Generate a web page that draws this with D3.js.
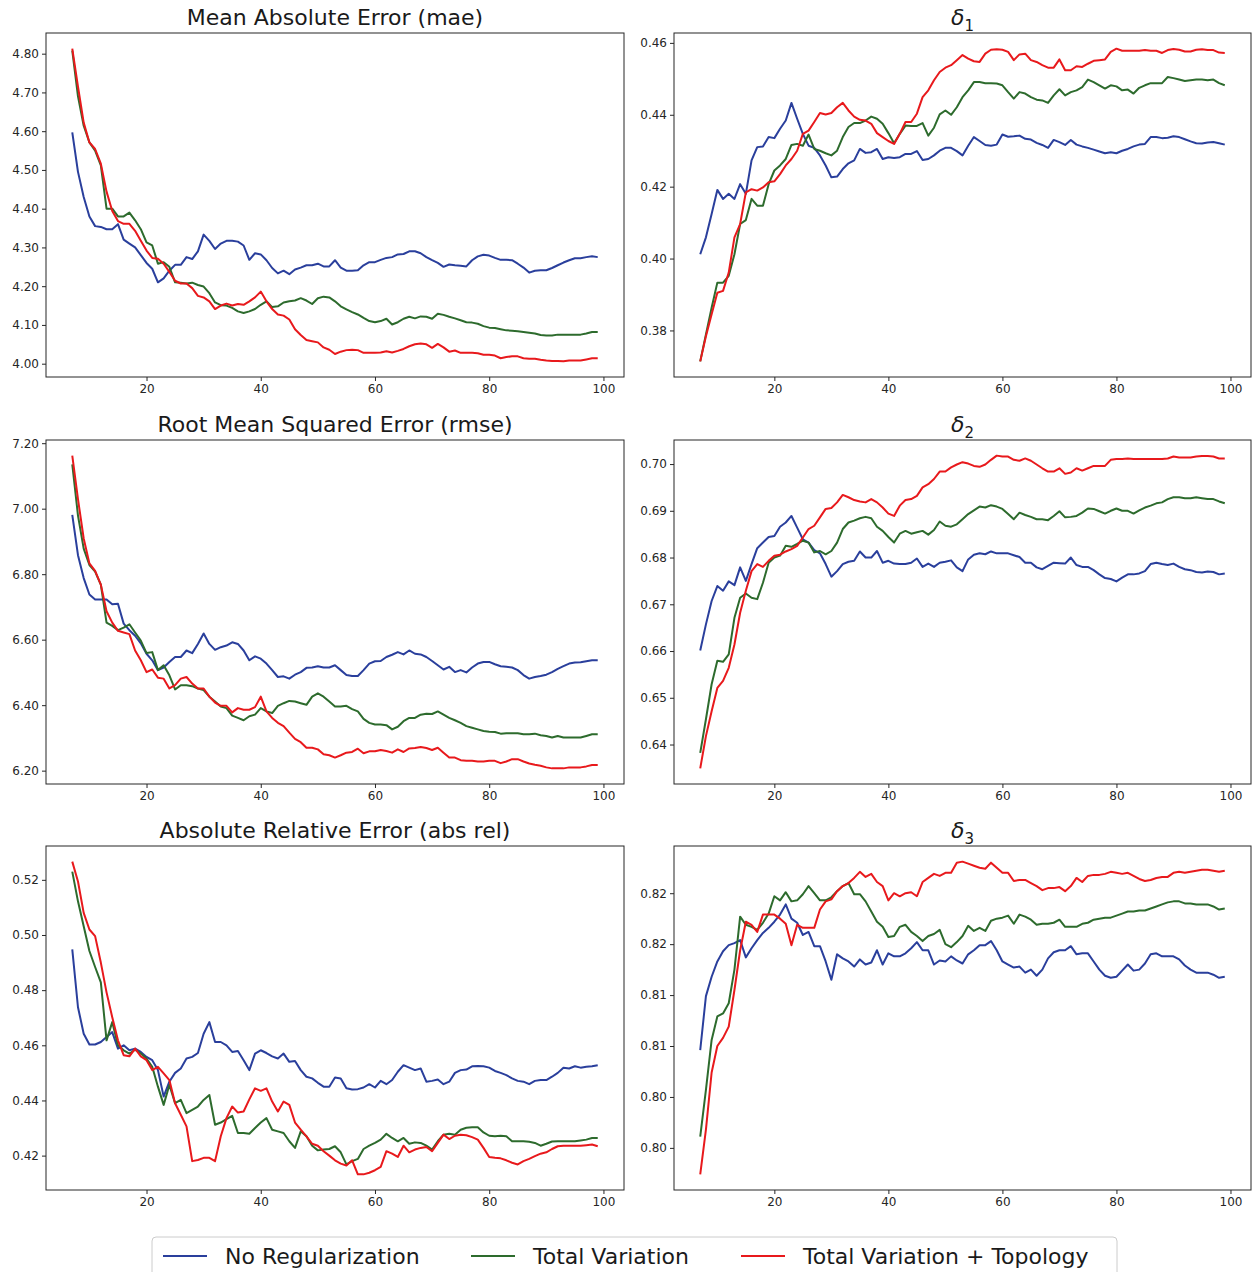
<!DOCTYPE html>
<html>
<head>
<meta charset="utf-8">
<script src="https://cdn.jsdelivr.net/npm/d3@7"></script>
<style>
body { margin: 0; background: #ffffff; }
text { font-family: "DejaVu Sans", sans-serif; }
</style>
</head>
<body>
<svg id="chart" width="1252" height="1272"></svg>
<script>

// x values (steps) shared by every panel
var steps = d3.range(7, 100);
var xTicks = [20, 40, 60, 80, 100];

var seriesNames = ["No Regularization", "Total Variation", "Total Variation + Topology"];
var seriesColors = ["#2a3f9c", "#2d6b2d", "#e8191c"];

// ---- mae ----
var maeNoReg = [4.597,4.495,4.43,4.38,4.355,4.353,4.347,4.347,4.36,4.32,4.31,4.30,4.28,4.26,4.245,4.21,4.22,4.24,4.255,4.255,4.275,4.27,4.29,4.333,4.317,4.296,4.31,4.317,4.317,4.315,4.305,4.268,4.285,4.282,4.267,4.247,4.233,4.24,4.231,4.243,4.248,4.254,4.254,4.258,4.251,
  4.251,4.267,4.248,4.24,4.24,4.241,4.254,4.262,4.262,4.268,4.273,4.275,4.282,4.283,4.29,4.29,4.285,4.275,4.267,4.26,4.25,4.256,4.254,4.253,4.251,4.267,4.277,4.281,4.279,4.273,4.268,4.268,4.267,4.258,4.248,4.235,4.24,4.241,4.241,4.247,4.254,4.261,4.267,4.272,4.272,4.275,4.277,4.275];
var maeTv = [4.808,4.69,4.614,4.571,4.55,4.512,4.40,4.40,4.38,4.38,4.39,4.37,4.347,4.313,4.305,4.258,4.262,4.25,4.21,4.209,4.207,4.209,4.203,4.199,4.182,4.158,4.151,4.15,4.144,4.135,4.131,4.135,4.141,4.152,4.161,4.146,4.148,4.158,4.161,4.163,4.169,4.163,4.154,4.169,4.173,
  4.171,4.161,4.148,4.14,4.133,4.127,4.118,4.11,4.107,4.11,4.116,4.101,4.107,4.116,4.121,4.117,4.122,4.121,4.116,4.129,4.126,4.121,4.117,4.112,4.107,4.106,4.103,4.097,4.093,4.092,4.089,4.086,4.085,4.084,4.082,4.08,4.078,4.074,4.073,4.073,4.075,4.075,4.075,4.075,4.075,4.078,4.082,4.082];
var maeTvTopo = [4.813,4.715,4.622,4.571,4.554,4.516,4.444,4.394,4.368,4.361,4.361,4.343,4.317,4.292,4.273,4.271,4.258,4.237,4.214,4.207,4.207,4.195,4.175,4.171,4.161,4.141,4.15,4.155,4.15,4.154,4.152,4.161,4.171,4.186,4.161,4.141,4.127,4.124,4.114,4.089,4.074,4.061,4.058,4.055,4.042,
  4.036,4.025,4.031,4.035,4.036,4.035,4.028,4.028,4.028,4.029,4.032,4.029,4.033,4.038,4.045,4.05,4.052,4.05,4.041,4.051,4.042,4.031,4.034,4.028,4.028,4.028,4.027,4.023,4.023,4.021,4.014,4.017,4.019,4.019,4.014,4.013,4.013,4.01,4.008,4.007,4.007,4.006,4.008,4.008,4.008,4.011,4.014,4.014];
var maeTicks = [4.0, 4.1, 4.2, 4.3, 4.4, 4.5, 4.6, 4.7, 4.8];

// ---- delta 1 ----
var d1NoReg = [0.4012,0.4059,0.4124,0.4191,0.4166,0.418,0.4166,0.4207,0.418,0.4273,0.431,0.4312,0.4338,0.4335,0.4361,0.4384,0.4433,0.4389,0.4347,0.4314,0.4308,0.4287,0.4259,0.4226,0.4228,0.4249,0.4265,0.4273,0.4305,0.4294,0.4296,0.4305,0.4277,0.4282,0.428,0.4282,0.4291,0.4291,0.4299,0.4274,0.4277,0.4287,0.43,0.4308,
  0.4308,0.4299,0.4287,0.4314,0.4338,0.4327,0.4316,0.4314,0.4317,0.4345,0.4339,0.434,0.4342,0.4333,0.4331,0.4322,0.4316,0.4308,0.433,0.4324,0.4316,0.433,0.4317,0.4312,0.4308,0.4303,0.4298,0.4293,0.4296,0.4293,0.43,0.4305,0.4312,0.4317,0.4319,0.4338,0.4338,0.4335,0.4336,0.434,0.4338,0.4332,0.4326,0.4321,0.432,0.4323,0.4324,0.4321,0.4317];
var d1Tv = [0.3714,0.3789,0.3863,0.3933,0.3933,0.3952,0.4012,0.4096,0.4107,0.4166,0.4147,0.4147,0.4207,0.4245,0.4259,0.4277,0.4316,0.4319,0.4314,0.4345,0.4305,0.43,0.4293,0.4287,0.43,0.4338,0.4366,0.4377,0.4377,0.4384,0.4395,0.4389,0.4375,0.4349,0.4321,0.4347,0.437,0.4369,0.4369,0.4377,0.4342,0.4364,0.4401,0.4412,
  0.44,0.4421,0.4449,0.4468,0.4491,0.4491,0.4488,0.4488,0.4487,0.4482,0.4463,0.4445,0.4463,0.4459,0.4449,0.4442,0.444,0.4433,0.4454,0.4471,0.4454,0.4463,0.4468,0.4477,0.4498,0.4491,0.4482,0.4473,0.4482,0.4479,0.4468,0.447,0.4459,0.4475,0.4482,0.4488,0.4488,0.4488,0.4505,0.4502,0.4498,0.4494,0.4496,0.4498,0.4498,0.4496,0.4498,0.4488,0.4482];
var d1TvTopo = [0.3714,0.3784,0.3845,0.3905,0.391,0.3961,0.4059,0.4096,0.4184,0.4193,0.4189,0.4198,0.4212,0.4215,0.4235,0.4259,0.4277,0.43,0.4347,0.4356,0.438,0.4405,0.4401,0.4405,0.4421,0.4433,0.4412,0.4395,0.4386,0.4384,0.4375,0.4349,0.4338,0.4327,0.4319,0.4347,0.438,0.438,0.4403,0.4449,0.4468,0.4496,0.4519,0.4531,
  0.4538,0.4552,0.4566,0.4556,0.4549,0.4547,0.457,0.4581,0.4582,0.4581,0.4575,0.4552,0.4568,0.457,0.4552,0.4547,0.4538,0.4531,0.4531,0.4554,0.4524,0.4524,0.4535,0.4533,0.4542,0.455,0.4552,0.4554,0.4575,0.4584,0.4578,0.4578,0.4578,0.4578,0.458,0.4578,0.4578,0.4572,0.458,0.4583,0.4581,0.4576,0.4576,0.4581,0.4582,0.458,0.458,0.4573,0.4572];
var d1Ticks = [0.38, 0.40, 0.42, 0.44, 0.46];

// ---- rmse ----
var rmseNoReg = [6.981,6.858,6.788,6.738,6.723,6.723,6.723,6.708,6.71,6.649,6.629,6.612,6.589,6.557,6.537,6.507,6.515,6.532,6.547,6.547,6.567,6.559,6.587,6.619,6.587,6.569,6.577,6.582,6.592,6.587,6.567,6.537,6.549,6.542,6.527,6.507,6.486,6.488,6.481,6.493,6.501,6.514,6.515,6.519,6.515,
  6.515,6.522,6.507,6.492,6.489,6.489,6.507,6.527,6.534,6.535,6.547,6.554,6.562,6.555,6.567,6.557,6.555,6.547,6.535,6.522,6.509,6.517,6.501,6.507,6.5,6.515,6.527,6.532,6.532,6.525,6.519,6.517,6.515,6.507,6.492,6.481,6.486,6.489,6.493,6.501,6.511,6.519,6.527,6.53,6.531,6.534,6.537,6.537];
var rmseTv = [7.135,6.979,6.878,6.828,6.808,6.768,6.652,6.642,6.629,6.637,6.647,6.622,6.597,6.559,6.562,6.507,6.522,6.491,6.448,6.461,6.461,6.458,6.451,6.446,6.426,6.411,6.396,6.391,6.368,6.361,6.354,6.366,6.371,6.391,6.381,6.376,6.398,6.406,6.413,6.411,6.406,6.401,6.426,6.436,6.426,
  6.411,6.396,6.396,6.398,6.388,6.381,6.358,6.346,6.341,6.341,6.339,6.326,6.334,6.351,6.361,6.361,6.371,6.374,6.373,6.381,6.371,6.361,6.354,6.346,6.336,6.331,6.326,6.321,6.319,6.318,6.313,6.314,6.314,6.314,6.311,6.311,6.313,6.308,6.306,6.301,6.306,6.301,6.301,6.301,6.301,6.306,6.311,6.311];
var rmseTvTopo = [7.162,7.029,6.909,6.833,6.81,6.768,6.687,6.652,6.627,6.622,6.617,6.567,6.537,6.501,6.509,6.484,6.481,6.451,6.461,6.481,6.486,6.466,6.451,6.451,6.426,6.408,6.398,6.398,6.378,6.391,6.386,6.386,6.394,6.426,6.381,6.361,6.346,6.336,6.316,6.297,6.287,6.27,6.27,6.265,6.25,
  6.247,6.24,6.247,6.255,6.257,6.267,6.253,6.259,6.259,6.263,6.26,6.255,6.265,6.257,6.268,6.269,6.272,6.269,6.263,6.27,6.255,6.24,6.24,6.232,6.23,6.23,6.228,6.228,6.23,6.23,6.223,6.228,6.235,6.235,6.228,6.222,6.218,6.215,6.21,6.207,6.207,6.207,6.21,6.21,6.21,6.213,6.217,6.217];
var rmseTicks = [6.2, 6.4, 6.6, 6.8, 7.0, 7.2];

// ---- delta 2 ----
var d2NoReg = [0.6601,0.6657,0.6707,0.6739,0.6729,0.6749,0.6741,0.6779,0.675,0.6786,0.682,0.6832,0.6844,0.6846,0.6866,0.6875,0.6889,0.6864,0.6839,0.6832,0.6816,0.6809,0.6786,0.6759,0.6771,0.6786,0.6791,0.6793,0.6813,0.68,0.68,0.6814,0.6789,0.6793,0.6787,0.6786,0.6786,0.6789,0.6798,0.678,0.6787,0.678,0.6789,0.6791,
  0.6794,0.6779,0.6771,0.6796,0.6806,0.6809,0.6807,0.6813,0.6809,0.6809,0.6809,0.6805,0.6801,0.6789,0.6789,0.6779,0.6775,0.6782,0.6789,0.6788,0.6787,0.68,0.6784,0.678,0.678,0.6773,0.6764,0.6756,0.6754,0.6749,0.6757,0.6764,0.6764,0.6766,0.6771,0.6786,0.6789,0.6786,0.6784,0.6787,0.678,0.6775,0.6773,0.6769,0.6768,0.677,0.6769,0.6764,0.6766];
var d2Tv = [0.6382,0.6454,0.6529,0.6579,0.6577,0.6593,0.6671,0.6714,0.6723,0.6714,0.6711,0.6746,0.6789,0.68,0.6804,0.6825,0.6823,0.6829,0.6836,0.6832,0.6811,0.6814,0.6807,0.6814,0.6832,0.6861,0.6875,0.6879,0.6884,0.6887,0.6884,0.6866,0.6857,0.6844,0.6832,0.6851,0.6857,0.6851,0.6854,0.6857,0.6849,0.6859,0.6877,0.6868,
  0.6866,0.6871,0.6882,0.6893,0.6901,0.6909,0.6907,0.6912,0.6909,0.6904,0.6893,0.6882,0.6896,0.6891,0.6887,0.6882,0.6882,0.688,0.6889,0.6899,0.6886,0.6887,0.6889,0.6896,0.6905,0.6904,0.6899,0.6894,0.69,0.6905,0.69,0.69,0.6894,0.6901,0.6907,0.6911,0.6916,0.6918,0.6925,0.6929,0.6929,0.6927,0.6927,0.6929,0.6927,0.6925,0.6925,0.692,0.6916];
var d2TvTopo = [0.6349,0.6418,0.6471,0.6521,0.6536,0.6564,0.6614,0.6682,0.6729,0.6771,0.6786,0.678,0.6793,0.6804,0.6806,0.6813,0.6818,0.6825,0.6843,0.6861,0.6868,0.6886,0.6904,0.6906,0.6918,0.6934,0.6929,0.6923,0.692,0.6918,0.6925,0.6918,0.6907,0.6894,0.6889,0.6911,0.6923,0.6925,0.6932,0.695,0.6957,0.6968,0.6984,0.6984,
  0.6993,0.6999,0.7004,0.7001,0.6996,0.6994,0.6999,0.7009,0.7018,0.7016,0.7016,0.7009,0.7007,0.7012,0.7007,0.6999,0.6991,0.6984,0.6984,0.6991,0.6979,0.6982,0.6991,0.6986,0.6991,0.6996,0.6996,0.6996,0.7009,0.7011,0.7011,0.7012,0.7011,0.7011,0.7011,0.7011,0.7011,0.7011,0.7012,0.7016,0.7014,0.7014,0.7014,0.7016,0.7017,0.7017,0.7016,0.7012,0.7012];
var d2Ticks = [0.64, 0.65, 0.66, 0.67, 0.68, 0.69, 0.70];

// ---- abs rel ----
var absRelNoReg = [0.4948,0.4738,0.4642,0.4603,0.4603,0.4612,0.463,0.4648,0.4588,0.46,0.4582,0.4588,0.4576,0.4558,0.4546,0.451,0.4414,0.4468,0.45,0.4516,0.4552,0.4558,0.4572,0.4642,0.4684,0.4612,0.4612,0.46,0.4576,0.4579,0.4546,0.451,0.457,0.4582,0.4572,0.456,0.4552,0.457,0.454,0.4543,0.451,0.4486,0.448,0.4464,0.445,
  0.445,0.4483,0.448,0.4444,0.444,0.4441,0.4447,0.4459,0.4447,0.4471,0.4459,0.4474,0.4504,0.4528,0.4519,0.451,0.4516,0.4468,0.4471,0.4476,0.4459,0.4468,0.45,0.451,0.4512,0.4524,0.4525,0.4524,0.4519,0.4507,0.45,0.4492,0.448,0.4471,0.4468,0.4459,0.4471,0.4474,0.4474,0.4486,0.45,0.4519,0.4516,0.4524,0.4519,0.4522,0.4524,0.4528];
var absRelTv = [0.523,0.5122,0.5032,0.4942,0.4884,0.4828,0.4618,0.4684,0.46,0.4582,0.457,0.4584,0.457,0.4552,0.4522,0.445,0.4384,0.4456,0.439,0.4402,0.4354,0.4366,0.4378,0.4402,0.442,0.4312,0.432,0.4332,0.4344,0.4282,0.4282,0.4279,0.43,0.432,0.4336,0.4294,0.4288,0.4282,0.4252,0.4228,0.4288,0.427,0.4236,0.4219,0.4222,
  0.4224,0.4234,0.4212,0.4168,0.418,0.4188,0.4224,0.4236,0.4246,0.4258,0.4279,0.4264,0.4252,0.4264,0.4243,0.4248,0.4246,0.4236,0.4222,0.4252,0.4276,0.4279,0.4276,0.4294,0.4301,0.4303,0.4303,0.4284,0.4272,0.427,0.4272,0.427,0.4252,0.4252,0.4252,0.425,0.4246,0.4236,0.4243,0.4251,0.4252,0.4252,0.4252,0.4252,0.4255,0.4258,0.4264,0.4264];
var absRelTvTopo = [0.5266,0.5194,0.508,0.502,0.4996,0.49,0.4792,0.4702,0.4618,0.4564,0.456,0.4588,0.456,0.4546,0.451,0.4522,0.4498,0.4474,0.439,0.4348,0.4306,0.418,0.4184,0.4192,0.4192,0.418,0.427,0.4336,0.4378,0.4356,0.436,0.4404,0.4444,0.4435,0.4444,0.4396,0.436,0.4396,0.4384,0.432,0.4294,0.427,0.4243,0.4236,0.4216,
  0.42,0.4183,0.4171,0.4164,0.4183,0.4132,0.4132,0.4138,0.4147,0.4159,0.4216,0.4207,0.4195,0.4236,0.4212,0.4222,0.4228,0.4231,0.4216,0.4246,0.4276,0.426,0.4272,0.4276,0.4274,0.4267,0.4258,0.4228,0.4195,0.4192,0.419,0.4183,0.4174,0.4168,0.418,0.4188,0.4198,0.4207,0.4212,0.4224,0.4234,0.4236,0.4236,0.4236,0.4236,0.4238,0.424,0.4234];
var absRelTicks = [0.42, 0.44, 0.46, 0.48, 0.50, 0.52];

// ---- delta 3 ----
var d3NoReg = [0.8096,0.8149,0.8168,0.8183,0.8193,0.8199,0.8201,0.8204,0.8187,0.8196,0.8204,0.8211,0.8216,0.8222,0.8229,0.8239,0.8225,0.8221,0.8209,0.8212,0.8198,0.8198,0.8183,0.8165,0.819,0.8186,0.8183,0.8178,0.8185,0.818,0.8182,0.8194,0.818,0.8191,0.8188,0.8188,0.8191,0.8196,0.8202,0.8194,0.8194,0.818,0.8184,0.8183,
  0.8188,0.8184,0.8181,0.819,0.8194,0.8199,0.8199,0.8203,0.8194,0.8183,0.818,0.8177,0.8178,0.8172,0.8175,0.8169,0.8175,0.8186,0.8192,0.8194,0.8194,0.8198,0.819,0.8191,0.8191,0.8183,0.8175,0.8169,0.8167,0.8168,0.8174,0.818,0.8174,0.8175,0.8181,0.819,0.8191,0.8188,0.8188,0.8188,0.8185,0.8179,0.8175,0.8172,0.8172,0.8172,0.817,0.8167,0.8168];
var d3Tv = [0.8011,0.8057,0.8106,0.8129,0.8132,0.8142,0.8175,0.8227,0.8219,0.8217,0.8214,0.8221,0.823,0.8247,0.8243,0.8251,0.8242,0.8243,0.8249,0.8257,0.825,0.8243,0.8243,0.8246,0.8252,0.8257,0.826,0.8249,0.8249,0.8242,0.8232,0.8222,0.8217,0.8207,0.8208,0.8217,0.8219,0.8212,0.8208,0.8203,0.8208,0.821,0.8214,0.82,
  0.8197,0.8202,0.8208,0.8218,0.8213,0.8216,0.8213,0.8223,0.8225,0.8226,0.8228,0.822,0.8229,0.8227,0.8224,0.8219,0.822,0.822,0.8221,0.8224,0.8217,0.8217,0.8217,0.822,0.8221,0.8224,0.8225,0.8226,0.8226,0.8228,0.823,0.8232,0.8232,0.8233,0.8233,0.8235,0.8237,0.8239,0.8241,0.8242,0.8242,0.824,0.824,0.8239,0.8239,0.8239,0.8237,0.8234,0.8235];
var d3TvTopo = [0.7974,0.8018,0.8074,0.81,0.8108,0.8119,0.8155,0.8194,0.8222,0.8219,0.8212,0.8229,0.8229,0.8229,0.8225,0.822,0.8199,0.8219,0.8216,0.8216,0.8216,0.8234,0.8242,0.8244,0.8252,0.8257,0.826,0.8265,0.8271,0.8266,0.8269,0.8261,0.8257,0.8243,0.825,0.8247,0.825,0.8251,0.8247,0.8261,0.8265,0.8269,0.8267,0.827,
  0.827,0.828,0.8281,0.8279,0.8277,0.8275,0.8274,0.828,0.8275,0.827,0.827,0.8262,0.8263,0.8263,0.826,0.8257,0.8253,0.8255,0.8255,0.8256,0.8252,0.8257,0.8265,0.8261,0.8267,0.8268,0.8268,0.8269,0.8271,0.827,0.8269,0.827,0.8267,0.8264,0.8262,0.8263,0.8265,0.8266,0.8266,0.827,0.8271,0.827,0.8271,0.8272,0.8273,0.8273,0.8272,0.8271,0.8272];
var d3Ticks = [0.800, 0.805, 0.810, 0.815, 0.820, 0.825];
var d3TickLabels = ["0.80", "0.80", "0.81", "0.81", "0.82", "0.82"];

// layout of the 3x2 grid (pixels)
var cols = [{x0: 46, x1: 624}, {x0: 674, x1: 1251}];
var rows = [{y0: 33, y1: 377}, {y0: 440, y1: 784}, {y0: 846, y1: 1190}];

var panels = [
  {title: "Mean Absolute Error (mae)", sub: null, col: 0, row: 0, series: [maeNoReg, maeTv, maeTvTopo], ticks: maeTicks, labels: null},
  {title: "δ", sub: "1", col: 1, row: 0, series: [d1NoReg, d1Tv, d1TvTopo], ticks: d1Ticks, labels: null},
  {title: "Root Mean Squared Error (rmse)", sub: null, col: 0, row: 1, series: [rmseNoReg, rmseTv, rmseTvTopo], ticks: rmseTicks, labels: null},
  {title: "δ", sub: "2", col: 1, row: 1, series: [d2NoReg, d2Tv, d2TvTopo], ticks: d2Ticks, labels: null},
  {title: "Absolute Relative Error (abs rel)", sub: null, col: 0, row: 2, series: [absRelNoReg, absRelTv, absRelTvTopo], ticks: absRelTicks, labels: null},
  {title: "δ", sub: "3", col: 1, row: 2, series: [d3NoReg, d3Tv, d3TvTopo], ticks: d3Ticks, labels: d3TickLabels}
];

var svg = d3.select("#chart");
svg.append("rect").attr("width", 1252).attr("height", 1272).attr("fill", "#ffffff");

var fmt2 = d3.format(".2f");

function drawPanel(p){
  var c = cols[p.col], r = rows[p.row];

  // matplotlib style 5% margins on both axes
  var xLo = d3.min(steps), xHi = d3.max(steps), xPad = (xHi - xLo) * 0.05;
  var all = d3.merge(p.series);
  var lo = d3.min(all), hi = d3.max(all), pad = (hi - lo) * 0.05;

  var x = d3.scaleLinear().domain([xLo - xPad, xHi + xPad]).range([c.x0, c.x1]);
  var y = d3.scaleLinear().domain([lo - pad, hi + pad]).range([r.y1, r.y0]);

  var g = svg.append("g");

  g.append("rect")
    .attr("x", c.x0).attr("y", r.y0)
    .attr("width", c.x1 - c.x0).attr("height", r.y1 - r.y0)
    .attr("fill", "#ffffff");

  var line = d3.line()
    .x(function(d, i){ return x(steps[i]); })
    .y(function(d){ return y(d); });

  p.series.forEach(function(s, k){
    g.append("path")
      .datum(s)
      .attr("d", line)
      .attr("fill", "none")
      .attr("stroke", seriesColors[k])
      .attr("stroke-width", 2)
      .attr("stroke-linejoin", "round");
  });

  // frame
  g.append("rect")
    .attr("x", c.x0).attr("y", r.y0)
    .attr("width", c.x1 - c.x0).attr("height", r.y1 - r.y0)
    .attr("fill", "none")
    .attr("stroke", "#262626")
    .attr("stroke-width", 1);

  var xAxis = d3.axisBottom(x).tickValues(xTicks).tickSize(4).tickPadding(3).tickFormat(d3.format("d"));
  var yAxis = d3.axisLeft(y).tickValues(p.ticks).tickSize(4).tickPadding(3)
    .tickFormat(function(d, i){ return p.labels ? p.labels[i] : fmt2(d); });

  var gx = g.append("g").attr("transform", "translate(0," + r.y1 + ")").call(xAxis);
  var gy = g.append("g").attr("transform", "translate(" + c.x0 + ",0)").call(yAxis);

  [gx, gy].forEach(function(a){
    a.select(".domain").remove();
    a.selectAll("line").attr("stroke", "#262626");
    a.selectAll("text")
      .attr("fill", "#262626")
      .style("font-size", "12px")
      .style("font-family", "'DejaVu Sans', sans-serif");
  });

  // title
  var t = g.append("text")
    .attr("x", (c.x0 + c.x1) / 2)
    .attr("y", r.y0 - 8)
    .attr("text-anchor", "middle")
    .attr("fill", "#1a1a1a")
    .style("font-size", "22px");
  if(p.sub){
    t.append("tspan").style("font-style", "italic").text(p.title);
    t.append("tspan").attr("dy", 6).style("font-size", "15px").text(p.sub);
  } else {
    t.text(p.title);
  }
}

panels.forEach(drawPanel);

// legend
var legendX = [225, 533, 803];
var legendY = 1256;
var lg = svg.append("g");
lg.append("rect")
  .attr("x", 152).attr("y", 1237)
  .attr("width", 965).attr("height", 60)
  .attr("rx", 4)
  .attr("fill", "#ffffff")
  .attr("stroke", "#cccccc")
  .attr("stroke-width", 1);

seriesNames.forEach(function(name, k){
  lg.append("line")
    .attr("x1", legendX[k] - 62).attr("x2", legendX[k] - 18)
    .attr("y1", legendY).attr("y2", legendY)
    .attr("stroke", seriesColors[k])
    .attr("stroke-width", 2);
  lg.append("text")
    .attr("x", legendX[k])
    .attr("y", legendY + 8)
    .attr("fill", "#1a1a1a")
    .style("font-size", "22px")
    .text(name);
});

</script>
</body>
</html>
